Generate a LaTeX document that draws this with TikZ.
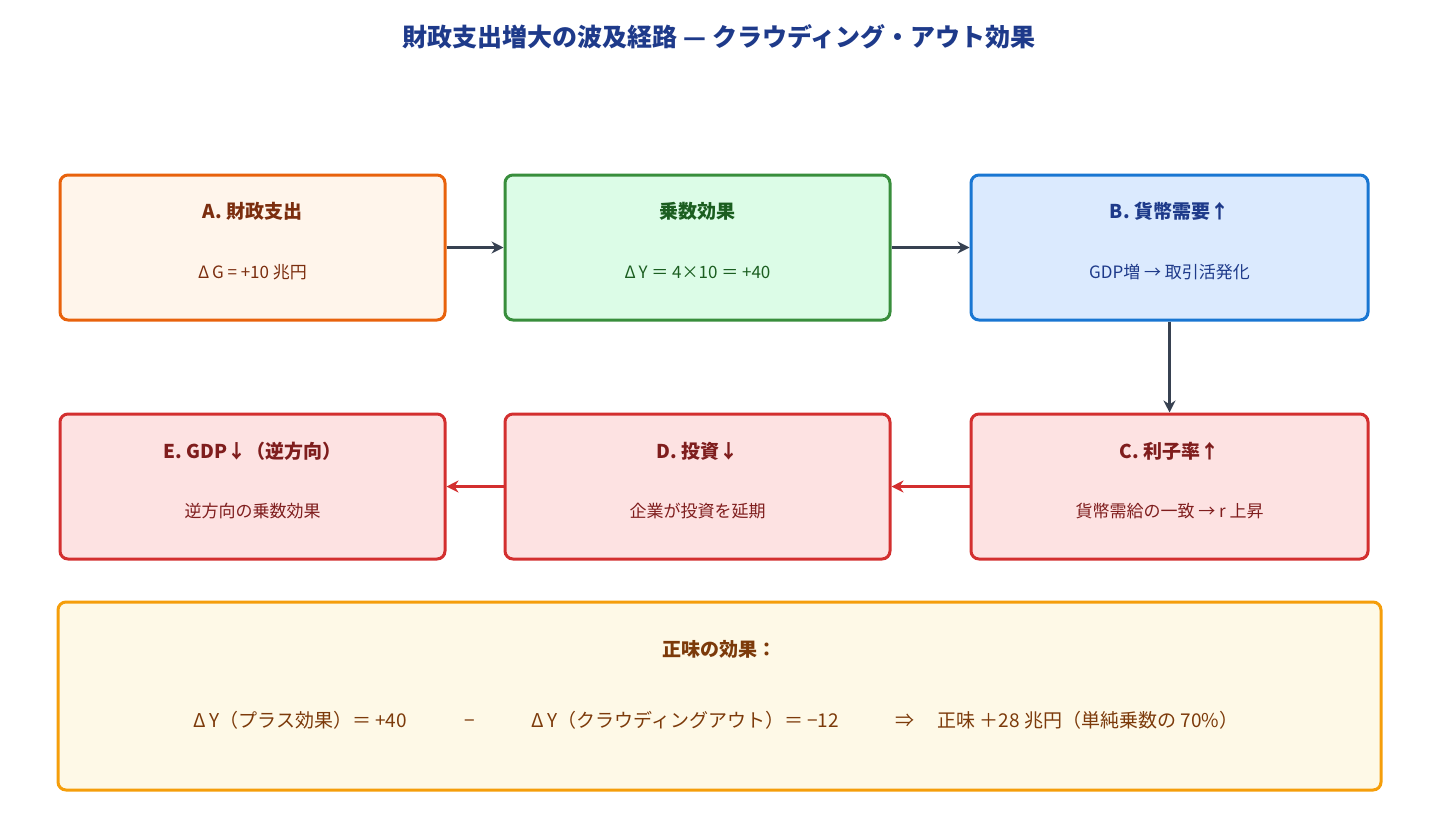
\documentclass[tikz,border=0pt]{standalone}
\usepackage{fontspec}
\setmainfont{Noto Sans CJK JP}
\usetikzlibrary{arrows.meta, positioning}

\definecolor{orgLine}{HTML}{E8620C}\definecolor{orgFill}{HTML}{FFF5EB}\definecolor{orgText}{HTML}{7B2D0E}
\definecolor{grnLine}{HTML}{388E3C}\definecolor{grnFill}{HTML}{DCFCE7}\definecolor{grnText}{HTML}{1B5E20}
\definecolor{bluLine}{HTML}{1976D2}\definecolor{bluFill}{HTML}{DBEAFE}\definecolor{bluText}{HTML}{1E3A8A}
\definecolor{redLine}{HTML}{D32F2F}\definecolor{redFill}{HTML}{FDE2E2}\definecolor{redText}{HTML}{7F1D1D}
\definecolor{ylwLine}{HTML}{F59E0B}\definecolor{ylwFill}{HTML}{FEF9E7}\definecolor{ylwText}{HTML}{7C3A0A}
\definecolor{arrDark}{HTML}{374151}

\tikzset{
  box/.style={draw, line width=1.5pt, rounded corners=4pt, minimum height=72.5pt, inner sep=0pt},
  head/.style={font=\bfseries\fontsize{9.5}{11}\selectfont},
  body/.style={font=\fontsize{8.5}{10}\selectfont},
  flow/.style={line width=1.8pt, -{Stealth[length=6pt,width=6pt]}}
}

\begin{document}
\begin{tikzpicture}[x=0.5pt, y=-0.5pt]
  \useasboundingbox (0,0) rectangle (1438,825);

  % title
  \node[font=\bfseries\fontsize{12.5}{14}\selectfont, text=bluText] (title) at (719,37)
    {財政支出増大の波及経路 — クラウディング・アウト効果};

  % first row
  \node[box, draw=orgLine, fill=orgFill, minimum width=192.5pt] (spend) at (252.5,247.5) {};
  \node[box, draw=grnLine, fill=grnFill, minimum width=192.5pt] (mult) at (697.5,247.5) {};
  \node[box, draw=bluLine, fill=bluFill, minimum width=198.5pt] (money) at (1169.5,247.5) {};
  \node[head, text=orgText] at (252.5,211) {A. 財政支出};
  \node[body, text=orgText] at (252.5,272) {Δ\,G = +10 兆円};
  \node[head, text=grnText] at (697.5,211) {乗数効果};
  \node[body, text=grnText] at (697.5,272) {Δ\,Y ＝ 4×10 ＝ +40};
  \node[head, text=bluText] at (1169.5,211) {B. 貨幣需要↑};
  \node[body, text=bluText] at (1169.5,272) {GDP増 → 取引活発化};

  % second row
  \node[box, draw=redLine, fill=redFill, minimum width=192.5pt] (gdp) at (252.5,486.5) {};
  \node[box, draw=redLine, fill=redFill, minimum width=192.5pt] (invest) at (697.5,486.5) {};
  \node[box, draw=redLine, fill=redFill, minimum width=198.5pt] (rate) at (1169.5,486.5) {};
  \node[head, text=redText] at (252.5,451) {E. GDP↓（逆方向）};
  \node[body, text=redText] at (252.5,511) {逆方向の乗数効果};
  \node[head, text=redText] at (697.5,451) {D. 投資↓};
  \node[body, text=redText] at (697.5,511) {企業が投資を延期};
  \node[head, text=redText] at (1169.5,451) {C. 利子率↑};
  \node[body, text=redText] at (1169.5,511) {貨幣需給の一致 → r 上昇};

  % net effect
  \node[box, draw=ylwLine, fill=ylwFill, minimum width=661.5pt, minimum height=94pt] (net) at (719.5,696) {};
  \node[head, text=ylwText] at (719.5,649) {正味の効果：};
  \node[body, font=\fontsize{9.5}{11}\selectfont, text=ylwText] at (716,720)
    {Δ\,Y（プラス効果）＝ +40\hspace{3em}−\hspace{3em}Δ\,Y（クラウディングアウト）＝ −12\hspace{3em}⇒\hspace{1.2em}正味 ＋28 兆円（単純乗数の 70\%）};

  % connectors
  \draw[flow, arrDark] (spend) -- (mult);
  \draw[flow, arrDark] (mult) -- (money);
  \draw[flow, arrDark] (money) -- (rate);
  \draw[flow, redLine] (rate) -- (invest);
  \draw[flow, redLine] (invest) -- (gdp);
\end{tikzpicture}
\end{document}
